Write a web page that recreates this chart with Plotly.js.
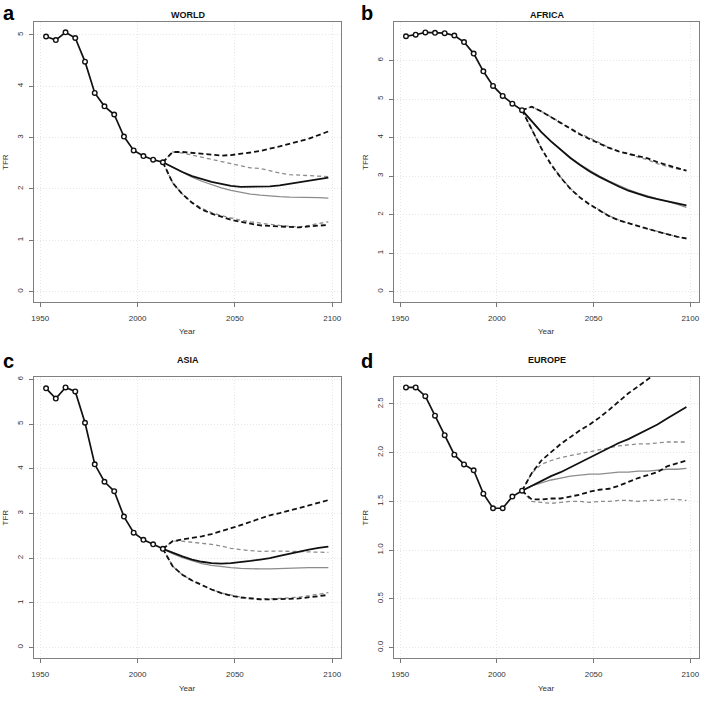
<!DOCTYPE html>
<html>
<head>
<meta charset="utf-8">
<script src="https://cdn.plot.ly/plotly-3.0.1.min.js"></script>
<style>html,body{margin:0;padding:0;background:#fff;} #chart{width:702px;height:702px;}</style>
</head>
<body>
<div id="chart"></div>
<script>
// ---- Data ----
const histYears = [1953,1958,1963,1968,1973,1978,1983,1988,1993,1998,2003,2008,2013];
const projYears = [2013,2018,2023,2028,2033,2038,2043,2048,2053,2058,2063,2068,2073,2078,2083,2088,2093,2098];
const xTicks = [1950, 2000, 2050, 2100];

// WORLD
const worldHist  = [4.97,4.90,5.05,4.94,4.48,3.87,3.61,3.45,3.02,2.75,2.64,2.57,2.52];
const worldMed1  = [2.52,2.42,2.33,2.25,2.19,2.14,2.10,2.06,2.04,2.04,2.04,2.05,2.07,2.10,2.12,2.16,2.19,2.22];
const worldMed2  = [2.52,2.42,2.32,2.23,2.15,2.08,2.02,1.97,1.93,1.90,1.88,1.86,1.85,1.84,1.84,1.83,1.83,1.82];
const worldUp1   = [2.52,2.72,2.72,2.70,2.68,2.66,2.65,2.66,2.68,2.71,2.74,2.78,2.83,2.88,2.93,2.98,3.05,3.12];
const worldUp2   = [2.52,2.72,2.70,2.66,2.62,2.57,2.53,2.49,2.45,2.41,2.40,2.35,2.31,2.28,2.27,2.25,2.24,2.24];
const worldLo1   = [2.52,2.12,1.90,1.73,1.60,1.52,1.46,1.40,1.36,1.32,1.29,1.28,1.27,1.25,1.25,1.27,1.29,1.30];
const worldLo2   = [2.52,2.12,1.90,1.74,1.62,1.54,1.48,1.43,1.39,1.36,1.33,1.31,1.29,1.27,1.26,1.29,1.32,1.36];

// AFRICA
const africaHist = [6.63,6.67,6.73,6.72,6.71,6.65,6.48,6.18,5.72,5.34,5.08,4.88,4.71];
const africaMed1 = [4.71,4.42,4.14,3.90,3.68,3.47,3.29,3.12,2.98,2.85,2.73,2.62,2.53,2.46,2.40,2.34,2.29,2.24];
const africaMed2 = [4.71,4.42,4.14,3.90,3.68,3.48,3.30,3.14,3.00,2.87,2.75,2.65,2.56,2.48,2.41,2.34,2.27,2.19];
const africaUp1  = [4.71,4.80,4.68,4.53,4.38,4.23,4.08,3.96,3.84,3.73,3.64,3.58,3.53,3.46,3.36,3.29,3.22,3.14];
const africaUp2  = [4.71,4.80,4.68,4.53,4.38,4.23,4.10,3.99,3.86,3.74,3.64,3.57,3.50,3.42,3.32,3.25,3.19,3.14];
const africaLo1  = [4.71,4.20,3.72,3.30,2.96,2.67,2.44,2.26,2.10,1.96,1.85,1.77,1.70,1.63,1.56,1.49,1.43,1.38];
const africaLo2  = [4.71,4.20,3.72,3.31,2.97,2.68,2.45,2.27,2.11,1.97,1.86,1.77,1.70,1.63,1.56,1.49,1.43,1.37];

// ASIA
const asiaHist   = [5.80,5.57,5.82,5.73,5.03,4.10,3.71,3.50,2.93,2.57,2.41,2.31,2.21];
const asiaMed1   = [2.21,2.12,2.04,1.97,1.92,1.89,1.88,1.89,1.91,1.94,1.97,2.00,2.05,2.10,2.15,2.19,2.23,2.26];
const asiaMed2   = [2.21,2.10,2.01,1.94,1.88,1.84,1.81,1.79,1.77,1.76,1.76,1.76,1.77,1.78,1.78,1.79,1.79,1.79];
const asiaUp1    = [2.21,2.38,2.42,2.45,2.49,2.54,2.60,2.67,2.74,2.81,2.89,2.96,3.01,3.06,3.12,3.18,3.24,3.30];
const asiaUp2    = [2.21,2.38,2.38,2.36,2.34,2.31,2.27,2.22,2.19,2.17,2.15,2.16,2.16,2.16,2.15,2.14,2.14,2.13];
const asiaLo1    = [2.21,1.82,1.63,1.50,1.40,1.30,1.22,1.16,1.12,1.10,1.08,1.08,1.08,1.09,1.10,1.12,1.15,1.18];
const asiaLo2    = [2.21,1.82,1.63,1.50,1.40,1.30,1.22,1.17,1.13,1.10,1.09,1.09,1.10,1.11,1.13,1.16,1.20,1.23];

// EUROPE
const europeHist = [2.67,2.67,2.58,2.38,2.18,1.98,1.88,1.82,1.58,1.43,1.43,1.55,1.61];
const europeMed1 = [1.61,1.66,1.71,1.76,1.80,1.85,1.90,1.95,2.00,2.05,2.10,2.14,2.19,2.24,2.29,2.35,2.41,2.47];
const europeMed2 = [1.61,1.66,1.69,1.72,1.74,1.76,1.77,1.78,1.78,1.79,1.80,1.80,1.81,1.81,1.82,1.83,1.83,1.84];
const europeUp1  = [1.61,1.79,1.92,2.01,2.09,2.16,2.23,2.29,2.36,2.44,2.53,2.61,2.68,2.75,2.83,2.90,2.98,3.05];
const europeUp2  = [1.61,1.79,1.88,1.92,1.95,1.97,1.99,2.01,2.03,2.05,2.07,2.08,2.09,2.09,2.10,2.11,2.11,2.11];
const europeLo1  = [1.61,1.52,1.52,1.53,1.53,1.55,1.57,1.60,1.62,1.63,1.66,1.70,1.74,1.77,1.80,1.86,1.89,1.92];
const europeLo2  = [1.61,1.50,1.49,1.48,1.49,1.50,1.50,1.49,1.50,1.50,1.51,1.51,1.50,1.51,1.51,1.52,1.52,1.51];

const panels = [
  {letter:'a', title:'WORLD',  hist:worldHist,  med1:worldMed1,  med2:worldMed2,  up1:worldUp1,  up2:worldUp2,  lo1:worldLo1,  lo2:worldLo2,
   yTicks:[0,1,2,3,4,5], yRange:[-0.202,5.252], fmt:''},
  {letter:'b', title:'AFRICA', hist:africaHist, med1:africaMed1, med2:africaMed2, up1:africaUp1, up2:africaUp2, lo1:africaLo1, lo2:africaLo2,
   yTicks:[0,1,2,3,4,5,6], yRange:[-0.269,7.0], fmt:''},
  {letter:'c', title:'ASIA',   hist:asiaHist,   med1:asiaMed1,   med2:asiaMed2,   up1:asiaUp1,   up2:asiaUp2,   lo1:asiaLo1,   lo2:asiaLo2,
   yTicks:[0,1,2,3,4,5,6], yRange:[-0.233,6.053], fmt:''},
  {letter:'d', title:'EUROPE', hist:europeHist, med1:europeMed1, med2:europeMed2, up1:europeUp1, up2:europeUp2, lo1:europeLo1, lo2:europeLo2,
   yTicks:[0,0.5,1,1.5,2,2.5], yRange:[-0.107,2.777], fmt:'.1f'}
];

// ---- Layout geometry (pixels) ----
const W = 702, H = 702;
const boxes = [
  {l:34,  r:341, t:22,  b:302, titleY:15,  letterTop:0,   letterX:1},
  {l:394, r:699, t:22,  b:302, titleY:15,  letterTop:0,   letterX:359},
  {l:34,  r:341, t:377, b:658, titleY:360, letterTop:348, letterX:1},
  {l:394, r:699, t:377, b:658, titleY:360, letterTop:348, letterX:359}
];
const FONT = 'Liberation Sans, Arial, Helvetica, sans-serif';
const GRAY = '#8c8c8c';

const traces = [];
const layout = {
  width: W, height: H,
  margin: {l:0, r:0, t:0, b:0},
  paper_bgcolor: '#fff', plot_bgcolor: '#fff',
  showlegend: false,
  font: {family: FONT, color: '#333'},
  annotations: []
};

panels.forEach((p, i) => {
  const n = i + 1;
  const xa = 'x' + (n === 1 ? '' : n), ya = 'y' + (n === 1 ? '' : n);
  const bx = boxes[i];
  const xDom = [bx.l / W, bx.r / W];
  const yDom = [1 - bx.b / H, 1 - bx.t / H];

  const mk = (y, color, width, dash) => ({
    type: 'scatter', mode: 'lines', x: projYears, y: y, xaxis: xa, yaxis: ya,
    line: {color: color, width: width, dash: dash}, hoverinfo: 'skip'
  });
  traces.push(mk(p.up2, GRAY, 1.3, '4px,3px'));
  traces.push(mk(p.lo2, GRAY, 1.3, '4px,3px'));
  traces.push(mk(p.med2, GRAY, 1.3, 'solid'));
  traces.push(mk(p.up1, '#111', 1.8, '5px,3px'));
  traces.push(mk(p.lo1, '#111', 1.8, '5px,3px'));
  traces.push(mk(p.med1, '#111', 1.8, 'solid'));
  traces.push({
    type: 'scatter', mode: 'lines+markers', x: histYears, y: p.hist, xaxis: xa, yaxis: ya,
    line: {color: '#111', width: 1.7},
    marker: {symbol: 'circle', size: 4.6, color: '#fff', line: {color: '#111', width: 1.4}},
    cliponaxis: false, hoverinfo: 'skip'
  });

  const axCommon = {
    ticks: 'outside', ticklen: 4, tickcolor: '#777', tickwidth: 1,
    showline: true, mirror: true, linecolor: '#808080', linewidth: 1,
    showgrid: true, gridcolor: '#e6e6e6', griddash: '1px,2px', gridwidth: 1,
    zeroline: false, tickfont: {family: FONT, size: 8, color: '#333'}, fixedrange: true,
    ticklabeloverflow: 'allow'
  };
  layout['xaxis' + (n === 1 ? '' : n)] = Object.assign({}, axCommon, {
    domain: xDom, anchor: ya, range: [1946.8, 2104.5], tickvals: xTicks,
    ticktext: xTicks.map(String), ticklabelstandoff: 4
  });
  layout['yaxis' + (n === 1 ? '' : n)] = Object.assign({}, axCommon, {
    domain: yDom, anchor: xa, range: p.yRange, tickvals: p.yTicks,
    tickformat: p.fmt, tickangle: -90, ticklabelstandoff: 3
  });

  const cx = (bx.l + bx.r) / 2 / W;
  const cy = 1 - (bx.t + bx.b) / 2 / H;
  layout.annotations.push({
    text: '<b>' + p.title + '</b>', xref: 'paper', yref: 'paper',
    x: cx, y: 1 - bx.titleY / H, xanchor: 'center', yanchor: 'middle',
    showarrow: false, font: {family: FONT, size: 9, color: '#111'}
  });
  layout.annotations.push({
    text: '<b>' + p.letter + '</b>', xref: 'paper', yref: 'paper',
    x: bx.letterX / W, y: 1 - bx.letterTop / H, xanchor: 'left', yanchor: 'top',
    showarrow: false, font: {family: FONT, size: 20, color: '#000'}
  });
  layout.annotations.push({
    text: 'TFR', xref: 'paper', yref: 'paper', textangle: -90,
    x: (bx.l - 29) / W, y: cy, xanchor: 'center', yanchor: 'middle',
    showarrow: false, font: {family: FONT, size: 8, color: '#333'}
  });
  layout.annotations.push({
    text: 'Year', xref: 'paper', yref: 'paper',
    x: cx, y: 1 - (bx.b + 30) / H, xanchor: 'center', yanchor: 'middle',
    showarrow: false, font: {family: FONT, size: 8, color: '#333'}
  });
});

Plotly.newPlot('chart', traces, layout, {staticPlot: true, displayModeBar: false});
</script>
</body>
</html>
